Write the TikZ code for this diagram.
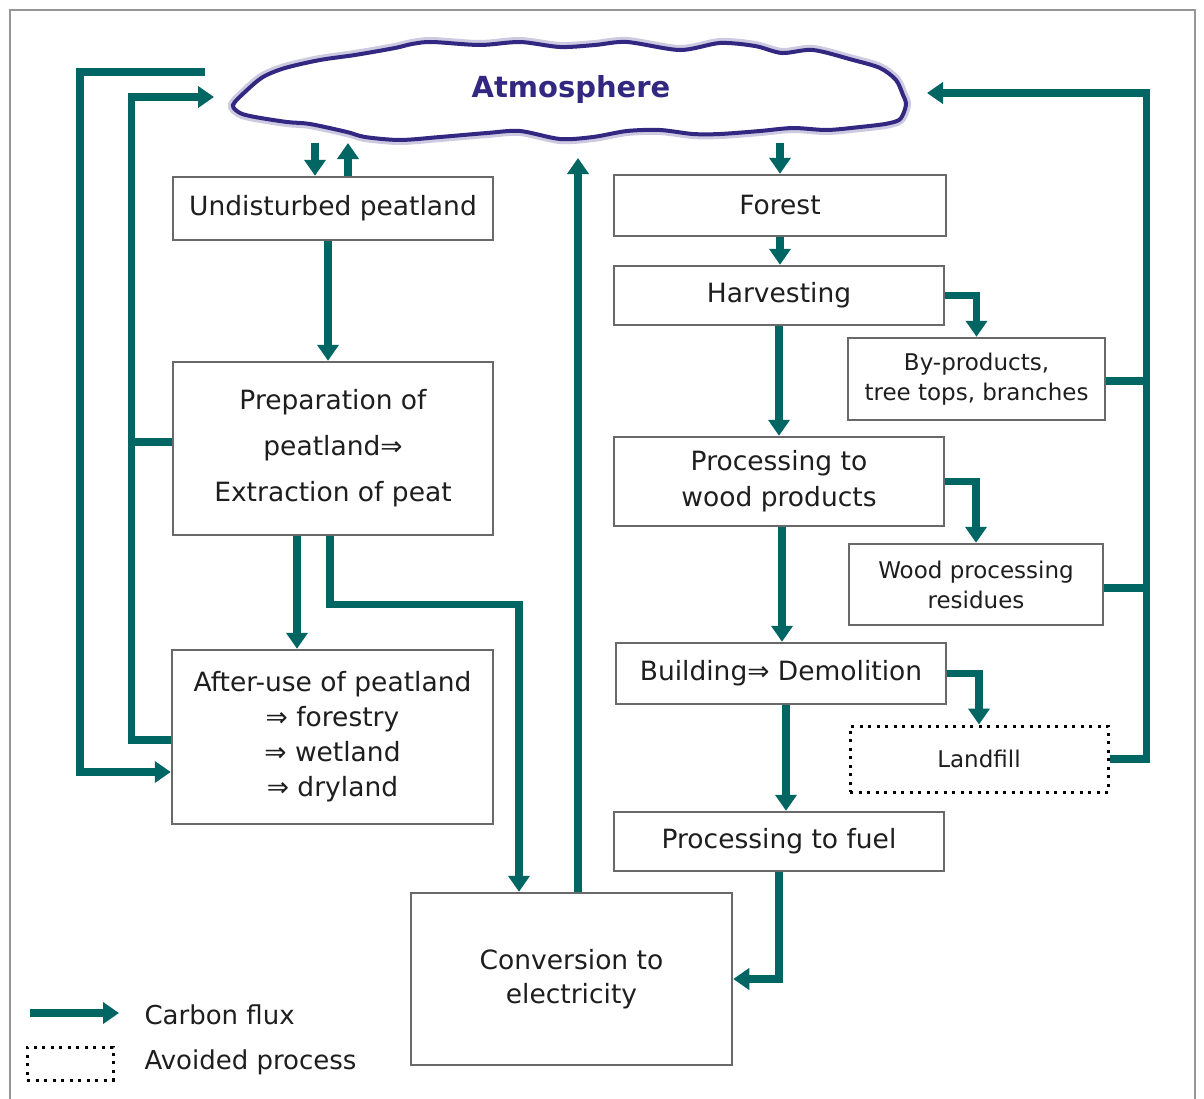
\documentclass[tikz,border=0pt]{standalone}
\usepackage{fontspec}
\setmainfont{DejaVu Sans}
\usetikzlibrary{arrows.meta}
\definecolor{flux}{RGB}{0,102,100}
\definecolor{boxgray}{RGB}{105,105,105}
\definecolor{atmo}{RGB}{50,40,130}
\definecolor{txt}{RGB}{30,30,30}
\begin{document}
\begin{tikzpicture}[x=1pt,y=-1pt,
  box/.style={draw=boxgray,line width=2.5pt,fill=white,inner sep=0pt,align=center,text=txt,font=\fontsize{26.5}{36}\selectfont},
  smallbox/.style={box,font=\fontsize{23}{30}\selectfont},
  avoided/.style={draw=black,line width=3pt,dash pattern=on 3pt off 5.5pt,fill=white,inner sep=0pt,align=center,text=txt},
  flux/.style={draw=flux,line width=7.5pt,-{Triangle[length=16pt,width=21pt]}},
  fluxline/.style={draw=flux,line width=7.5pt},
  legtext/.style={anchor=west,text=txt,font=\fontsize{26}{30}\selectfont}
]
\useasboundingbox (0,0) rectangle (1204,1098);
\fill[white] (0,0) rectangle (1204,1098);
\draw[color={rgb,255:red,150;green,150;blue,150},line width=2pt] (10,1100) -- (10,10) -- (1195,10) -- (1195,1100);

% cloud
\def\cloudpath{plot[smooth cycle,tension=0.5] coordinates {
(233,105) (246,91) (263,77) (285,68) (320,60) (355,55) (395,48) (412,44)
(432,42) (480,45) (520,42) (560,47) (595,45) (627,42) (680,50) (720,43)
(755,46) (782,53) (813,50) (853,60) (880,68) (896,80) (903,95) (906,103)
(904,112) (899,120) (885,124) (860,127) (827,130) (793,128) (760,131)
(720,134) (693,134) (660,130) (627,131) (593,137) (560,139) (520,131)
(487,133) (440,137) (400,140) (365,137) (347,132) (310,124) (287,122)
(255,117) (240,113)}}
\draw[atmo!25,line width=10pt] \cloudpath;
\draw[atmo,line width=4pt,fill=white] \cloudpath;
\node[text=atmo,font=\fontsize{29}{34}\selectfont\bfseries] (atm) at (571,89) {Atmosphere};
\coordinate (a1) at (315,143);
\coordinate (a2) at (348,143);
\coordinate (a3) at (780,143);
\coordinate (ac) at (578,158);
\coordinate (al) at (205,72);
\coordinate (ai) at (214,97);
\coordinate (ar) at (927,93);

% boxes
\node[box,minimum width=320pt,minimum height=63pt] (und) at (333,208.5) {Undisturbed peatland};
\node[box,minimum width=320pt,minimum height=173pt,font=\fontsize{26.5}{46}\selectfont] (prep) at (333,448.5) {Preparation of\\peatland⇒\\Extraction of peat};
\node[box,minimum width=321pt,minimum height=174pt,font=\fontsize{26.5}{35}\selectfont] (after) at (332.5,737) {After-use of peatland\\⇒ forestry\\⇒ wetland\\⇒ dryland};
\node[box,minimum width=332pt,minimum height=61pt] (forest) at (780,205.5) {Forest};
\node[box,minimum width=330pt,minimum height=59pt] (harv) at (779,295.5) {Harvesting};
\node[smallbox,minimum width=257pt,minimum height=82pt] (byp) at (976.5,379) {By-products,\\tree tops, branches};
\node[box,minimum width=330pt,minimum height=89pt] (procw) at (779,481.5) {Processing to\\wood products};
\node[smallbox,minimum width=254pt,minimum height=81pt] (resid) at (976,584.5) {Wood processing\\residues};
\node[box,minimum width=330pt,minimum height=61pt] (build) at (781,673.5) {Building⇒ Demolition};
\node[avoided,minimum width=258pt,minimum height=66pt,font=\fontsize{23}{30}\selectfont] (landfill) at (979,759) {Landfill};
\node[box,minimum width=330pt,minimum height=59pt] (fuel) at (779,841.5) {Processing to fuel};
\node[box,minimum width=321pt,minimum height=172pt] (conv) at (571.5,979) {\raisebox{6pt}{\begin{tabular}{@{}c@{}}Conversion to\\[-2pt]electricity\end{tabular}}};

% helper coordinates
\coordinate (u1) at ([xshift=-18pt]und.north);
\coordinate (u2) at ([xshift=15pt]und.north);
\coordinate (u3) at ([xshift=-5pt]und.south);
\coordinate (p1) at ([xshift=-36pt]prep.south);
\coordinate (p2) at ([xshift=-3pt]prep.south);
\coordinate (c1) at ([xshift=-52.5pt]conv.north);
\coordinate (c2) at ([xshift=6.5pt]conv.north);
\coordinate (w1) at ([xshift=3pt]procw.south);
\coordinate (b1) at ([xshift=5pt]build.south);

% left side
\draw[flux] (a1) -- (u1);
\draw[flux] (u2) -- (a2);
\draw[flux] (u3) -- (u3 |- prep.north);
\draw[flux] (p1) -- (p1 |- after.north);
\draw[flux] (p2) -- ++(0,68) -| (c1);
\draw[flux] (c2) -- (ac);
\draw[flux] (al) -- ++(-125,0) |- ([yshift=-35pt]after.west);
\draw[flux] ([yshift=-3pt]after.west) -- ++(-39.5,0) |- (ai);
\draw[fluxline] ([yshift=6.5pt]prep.west) -- ++(-44,0);

% right side
\draw[flux] (a3) -- (forest.north);
\draw[flux] (forest.south) -- (forest.south |- harv.north);
\draw[flux] (harv.south) -- (harv.south |- procw.north);
\draw[flux] (harv.east) -| (byp.north);
\draw[flux] (procw.east) -| (resid.north);
\draw[flux] (w1) -- (w1 |- build.north);
\draw[flux] (build.east) -| (landfill.north);
\draw[flux] (b1) -- (b1 |- fuel.north);
\draw[flux] (fuel.south) |- (conv.east);
\draw[flux] (landfill.east) -- ++(37,0) |- (ar);
\draw[fluxline] ([yshift=-2pt]byp.east) -- ++(44,0);
\draw[fluxline] ([yshift=-3.5pt]resid.east) -- ++(46,0);

% legend
\coordinate (l1) at (30,1013);
\coordinate (l2) at (119,1013);
\draw[flux] (l1) -- (l2);
\node[legtext] (lt1) at (141,1015) {Carbon flux};
\node[avoided,minimum width=86pt,minimum height=33pt] (legbox) at (70,1063.5) {};
\node[legtext] (lt2) at (141,1062) {Avoided process};
\end{tikzpicture}
\end{document}
